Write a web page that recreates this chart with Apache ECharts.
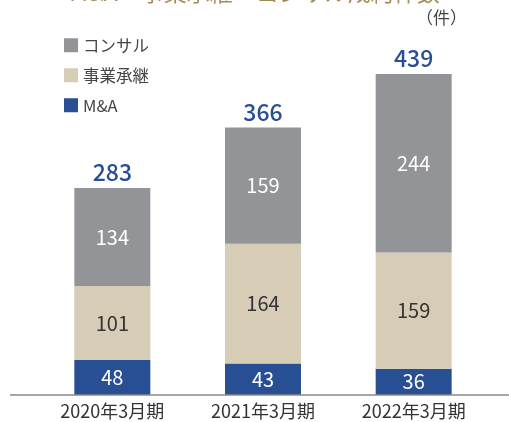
<!DOCTYPE html>
<html>
<head>
<meta charset="utf-8">
<script src="https://cdn.jsdelivr.net/npm/echarts@6/dist/echarts.min.js"></script>
<style>
  html, body { margin: 0; padding: 0; background: #fff; }
  #main { width: 509px; height: 422px; }
</style>
</head>
<body>
<div id="main"></div>
<script>
// data
var categories = ['2020年3月期', '2021年3月期', '2022年3月期'];
var maData = [48, 43, 36];
var jigyoData = [101, 164, 159];
var consulData = [134, 159, 244];
var totals = [283, 366, 439];

var font = '"Noto Sans CJK JP", "Noto Sans", sans-serif';

var myChart = echarts.init(document.getElementById('main'));

var option = {
	backgroundColor: '#ffffff',
	textStyle: { fontFamily: font },
	title: [{
		text: 'M&A・事業承継・コンサル成約件数',
		left: 'center',
		top: -24,
		textStyle: { color: '#a38c5a', fontSize: 23, fontWeight: 'normal', fontFamily: font }
	}, {
		text: '（件）',
		left: 416,
		top: 9,
		padding: 0,
		textStyle: { color: '#444', fontSize: 17, fontWeight: 'normal', fontFamily: font }
	}],
	legend: {
		orient: 'vertical',
		left: 64,
		top: 37,
		padding: 0,
		itemWidth: 14,
		itemHeight: 14,
		itemGap: 13.5,
		icon: 'rect',
		data: ['コンサル', '事業承継', 'M&A'],
		textStyle: { color: '#444', fontSize: 16.5, lineHeight: 14, fontFamily: font, padding: [0, 0, 0, 0] }
	},
	grid: { left: 37, right: 20, top: 74, bottom: 27 },
	xAxis: {
		type: 'category',
		data: categories,
		axisLine: { show: false },
		axisTick: { show: false },
		axisLabel: { color: '#333', fontSize: 18, margin: 7, fontFamily: font }
	},
	yAxis: {
		type: 'value',
		min: 0,
		max: Math.max.apply(null, totals),
		show: false,
		splitLine: { show: false }
	},
	graphic: [{
		type: 'line',
		shape: { x1: 10, y1: 395, x2: 509, y2: 395 },
		style: { stroke: '#8a8a8a', lineWidth: 1.5 },
		z: 10
	}],
	series: [{
		name: 'M&A',
		type: 'bar',
		stack: 'total',
		barWidth: 76,
		data: maData,
		itemStyle: { color: '#284f93' },
		label: { show: true, position: 'inside', color: '#fff', fontSize: 20, fontFamily: font }
	}, {
		name: '事業承継',
		type: 'bar',
		stack: 'total',
		data: jigyoData,
		itemStyle: { color: '#d7ccb6' },
		label: { show: true, position: 'inside', color: '#333', fontSize: 20, fontFamily: font }
	}, {
		name: 'コンサル',
		type: 'bar',
		stack: 'total',
		data: consulData,
		itemStyle: { color: '#939498' },
		label: { show: true, position: 'inside', color: '#fff', fontSize: 20, fontFamily: font }
	}, {
		name: '合計',
		type: 'bar',
		stack: 'total',
		data: totals.map(function () { return 0; }),
		itemStyle: { color: 'transparent' },
		label: {
			show: true,
			position: 'top',
			distance: 4,
			color: '#284f93',
			fontSize: 23,
			fontWeight: 500,
			fontFamily: font,
			formatter: function (p) { return totals[p.dataIndex]; }
		}
	}]
};

myChart.setOption(option);
</script>
</body>
</html>
